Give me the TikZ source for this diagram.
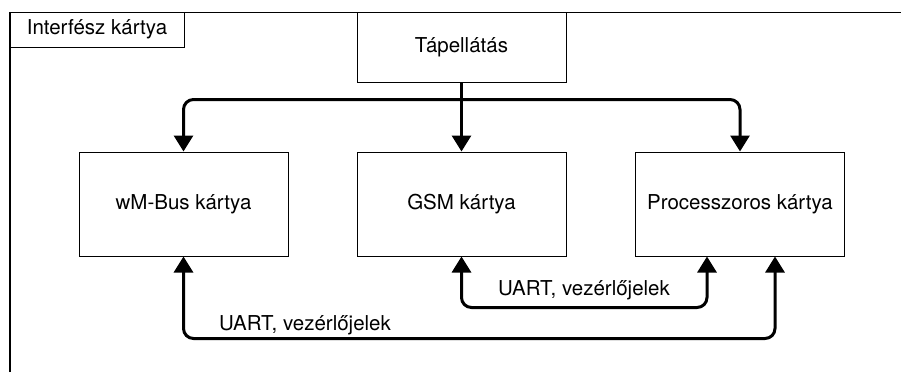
\documentclass[tikz,border=0pt]{standalone}
\usepackage{fontspec}
\setmainfont{TeX Gyre Heros}
\usetikzlibrary{positioning,arrows.meta}

\tikzset{
  card/.style={draw, line width=1pt, minimum width=209pt, minimum height=104pt, inner sep=0pt},
  link/.style={line width=3pt, rounded corners=10pt},
  >={Triangle[length=16pt,width=19pt]},
}

\begin{document}
\begin{tikzpicture}[x=1pt,y=-1pt,font=\fontsize{20.5}{24}\selectfont]
                \useasboundingbox (0,0) rectangle (901,372);
                \draw[line width=1.3pt] (10,372) -- (10,12.5) -- (901,12.5);

                \node[draw, line width=1pt, minimum width=174pt, minimum height=35pt] (iface) at (97,29.5) {Interfész kártya};

                \node[card, minimum height=70pt] (tap)   at (461.5,47)  {Tápellátás};
                \node[card]                      (wmbus) at (183.5,204) {wM-Bus kártya};
                \node[card]                      (gsm)   at (461.5,204) {GSM kártya};
                \node[card]                      (proc)  at (740,204)   {Processzoros kártya};

                \coordinate (split) at ([yshift=-17pt]tap.south);

                \draw[link,->] (tap.south) -- (gsm.north);
                \draw[link,->] (split) -| (wmbus.north);
                \draw[link,->] (split) -| (proc.north);

                \draw[link,<->] (wmbus.south) -- ++(0,82) -| ([xshift=35pt]proc.south);
                \draw[link,<->] (gsm.south) -- ++(0,51) -| ([xshift=-33pt]proc.south);

                \node (uart1) at (305,325) {UART, vezérlőjelek};
                \node (uart2) at (584,290) {UART, vezérlőjelek};
            \end{tikzpicture}
\end{document}
